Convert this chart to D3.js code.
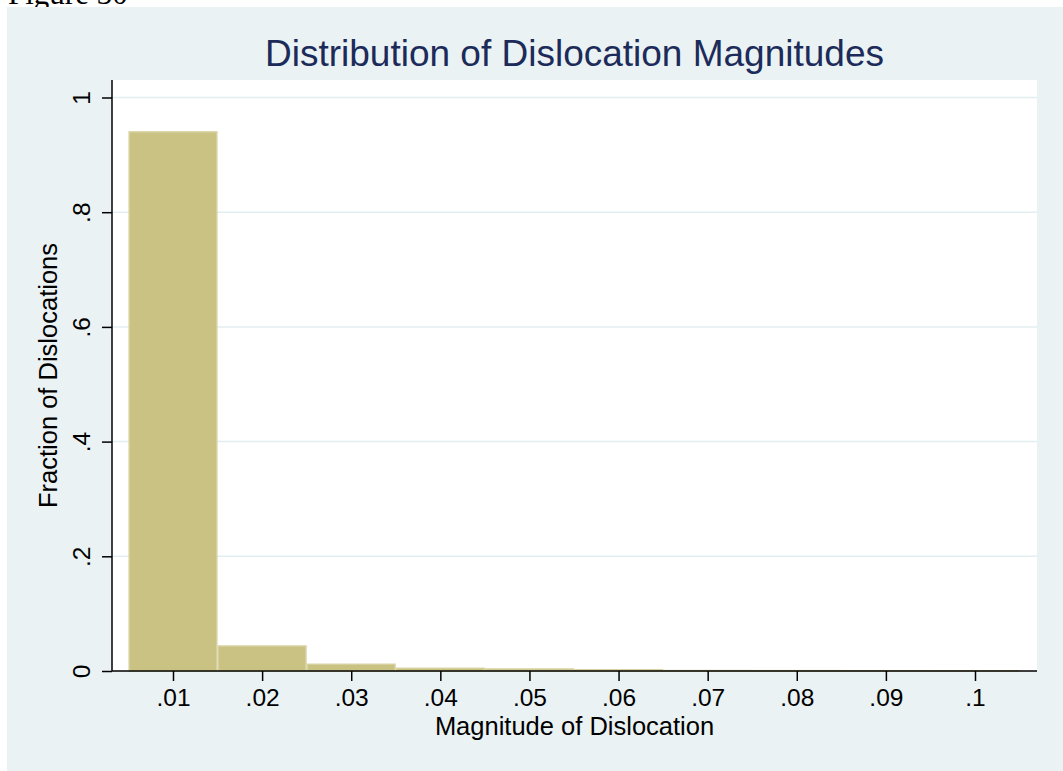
<!DOCTYPE html>
<html>
<head>
<meta charset="utf-8">
<script src="https://cdn.jsdelivr.net/npm/d3@7"></script>
<style>
  html, body { margin: 0; padding: 0; background: #ffffff; }
  svg { display: block; }
</style>
</head>
<body>
<svg id="chart" width="1063" height="771"></svg>
<script>
// ---- data ----
const binCenters = [0.01, 0.02, 0.03, 0.04, 0.05, 0.06, 0.07, 0.08, 0.09, 0.10];
const fractions  = [0.940, 0.0435, 0.0117, 0.0047, 0.0035, 0.0020, 0.0008, 0.0006, 0.0005, 0.0004];
const binWidth = 0.01;
const xTicks = [0.01, 0.02, 0.03, 0.04, 0.05, 0.06, 0.07, 0.08, 0.09, 0.10];
const xTickLabels = [".01", ".02", ".03", ".04", ".05", ".06", ".07", ".08", ".09", ".1"];
const yTicks = [0, 0.2, 0.4, 0.6, 0.8, 1];
const yTickLabels = ["0", ".2", ".4", ".6", ".8", "1"];
const titleText = "Distribution of Dislocation Magnitudes";
const xTitleText = "Magnitude of Dislocation";
const yTitleText = "Fraction of Dislocations";
const captionText = "Figure 30";

// ---- layout ----
const svg = d3.select("#chart");
const plot = { left: 112, right: 1037, top: 80, bottom: 671 };
const x = d3.scaleLinear().domain([0.01, 0.10]).range([173, 975]);
const y = d3.scaleLinear().domain([0, 1]).range([671, 97.5]);
const font = "'Liberation Sans', Arial, Helvetica, sans-serif";

// caption (partly cut off at top, as in the reference)
svg.append("text").attr("x", 8).attr("y", 4)
  .attr("font-family", "'Liberation Serif', 'Times New Roman', serif")
  .attr("font-size", 31).attr("fill", "#000").text(captionText);

// outer background
svg.append("rect").attr("x", 7).attr("y", 7).attr("width", 1063 - 7).attr("height", 771 - 7)
  .attr("fill", "#EAF2F3");

// plot region
svg.append("rect").attr("x", plot.left).attr("y", plot.top)
  .attr("width", plot.right - plot.left).attr("height", plot.bottom - plot.top)
  .attr("fill", "#ffffff");

// gridlines
svg.append("g").selectAll("line").data(yTicks.filter(d => d > 0)).join("line")
  .attr("x1", plot.left).attr("x2", plot.right)
  .attr("y1", d => y(d)).attr("y2", d => y(d))
  .attr("stroke", "#E4EEF0").attr("stroke-width", 1.5);

// bars
svg.append("g").selectAll("rect").data(binCenters.map((c, i) => ({ c, v: fractions[i] }))).join("rect")
  .attr("x", d => x(d.c - binWidth / 2) + 0.75)
  .attr("width", d => x(d.c + binWidth / 2) - x(d.c - binWidth / 2) - 1.5)
  .attr("y", d => y(d.v))
  .attr("height", d => y(0) - y(d.v))
  .attr("fill", "#C9C283")
  .attr("stroke", "#D6D09E").attr("stroke-width", 1.5);

// x axis
const xAxis = d3.axisBottom(x).tickValues(xTicks)
  .tickFormat((d, i) => xTickLabels[i]).tickSize(10).tickSizeOuter(0).tickPadding(5);
const gx = svg.append("g").attr("transform", `translate(0,${plot.bottom})`).call(xAxis);
gx.select(".domain").remove();
gx.selectAll(".tick line").attr("stroke", "#000").attr("stroke-width", 1.5);
gx.selectAll(".tick text").attr("font-family", font).attr("font-size", 24.5).attr("fill", "#000")
  .attr("dy", null).attr("y", 35);
svg.append("line").attr("x1", plot.left).attr("x2", plot.right)
  .attr("y1", plot.bottom).attr("y2", plot.bottom).attr("stroke", "#000").attr("stroke-width", 1.5);

// y axis
const yAxis = d3.axisLeft(y).tickValues(yTicks)
  .tickFormat((d, i) => yTickLabels[i]).tickSize(10).tickSizeOuter(0);
const gy = svg.append("g").attr("transform", `translate(${plot.left},0)`).call(yAxis);
gy.select(".domain").remove();
gy.selectAll(".tick line").attr("stroke", "#000").attr("stroke-width", 1.5);
gy.selectAll(".tick text").attr("font-family", font).attr("font-size", 24.5).attr("fill", "#000")
  .attr("x", null).attr("dy", null)
  .attr("transform", "translate(-22,0) rotate(-90)")
  .attr("text-anchor", "middle").attr("y", 0);
svg.append("line").attr("x1", plot.left).attr("x2", plot.left)
  .attr("y1", plot.top).attr("y2", plot.bottom).attr("stroke", "#000").attr("stroke-width", 1.5);

// titles
const cx = (plot.left + plot.right) / 2;
svg.append("text").attr("x", cx).attr("y", 66).attr("text-anchor", "middle")
  .attr("font-family", font).attr("font-size", 37).attr("fill", "#1C2B5A").text(titleText);
svg.append("text").attr("x", cx).attr("y", 735).attr("text-anchor", "middle")
  .attr("font-family", font).attr("font-size", 25.5).attr("fill", "#000").text(xTitleText);
const cy = (plot.top + plot.bottom) / 2;
svg.append("text").attr("transform", `translate(57,${cy}) rotate(-90)`).attr("text-anchor", "middle")
  .attr("font-family", font).attr("font-size", 25.5).attr("fill", "#000").text(yTitleText);
</script>
</body>
</html>
